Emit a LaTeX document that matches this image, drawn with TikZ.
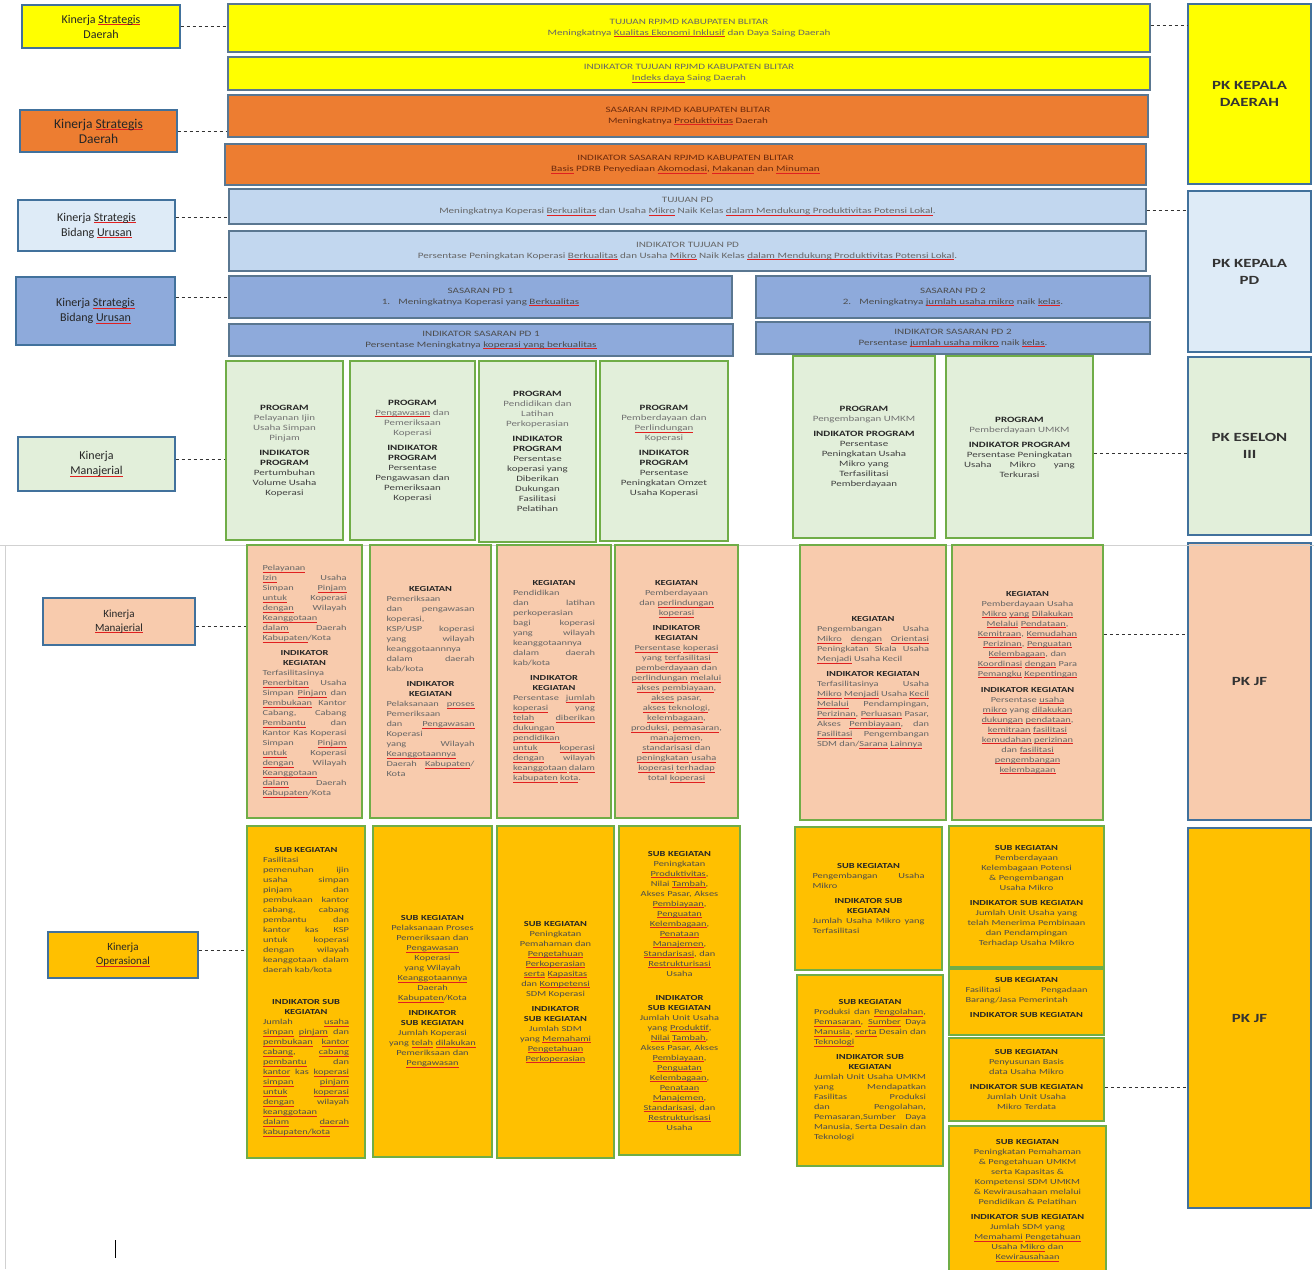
\documentclass[tikz,border=0pt]{standalone}
\usepackage{fontspec}
\setmainfont{Carlito}
\newfontfamily\widefont{Carlito}[FakeStretch=1.35]
\usepackage{xcolor}

\definecolor{kyellow}{HTML}{FFFF00}
\definecolor{korange}{HTML}{ED7D31}
\definecolor{kpale}{HTML}{DEEBF7}
\definecolor{klight}{HTML}{C2D7EF}
\definecolor{kblue}{HTML}{8EAADB}
\definecolor{kgreen}{HTML}{E2EFDA}
\definecolor{kpeach}{HTML}{F8CBAD}
\definecolor{kgold}{HTML}{FFC000}
\definecolor{kline}{HTML}{41719C}
\definecolor{kgline}{HTML}{70AD47}
\definecolor{kbrown}{HTML}{6B2A0E}
\definecolor{kred}{HTML}{E02020}

\newsavebox\sqbox
\newcommand\sq[1]{\leavevmode\sbox\sqbox{#1}\rlap{\raisebox{-2pt}{\color{kred}\rule{\wd\sqbox}{0.9pt}}}\usebox\sqbox}
\newcommand\kh[1]{{\color{black!85}\bfseries #1}}
\newcommand\jhd[1]{\null\hfill\kh{#1}\hfill\null\\}
\newcommand\lblfont{\fontsize{12}{15}\selectfont}
\newcommand\bandfont{\widefont\fontsize{8.2}{11}\selectfont}
\newcommand\progfont{\widefont\fontsize{8.1}{10}\selectfont}
\newcommand\kegfont{\widefont\fontsize{7.7}{10}\selectfont\sloppy\hyphenpenalty=10000}
\newcommand\pkfont{\widefont\bfseries\fontsize{12.5}{17}\selectfont}

\begin{document}
\begin{tikzpicture}[x=1pt,y=-1pt,
  lbl/.style={draw=kline, line width=1.3pt, font=\lblfont, align=center, text=black!85, inner sep=2pt},
  band/.style={draw=kline!60!gray, line width=1.2pt, font=\bandfont, align=center, text=black!60, inner sep=2pt},
  pk/.style={draw=kline, line width=1.5pt, font=\pkfont, align=center, text=black!80, minimum width=123pt},
  prog/.style={draw=kgline, line width=1.6pt, fill=kgreen, font=\progfont, align=center, text=black!55, inner sep=2pt},
  keg/.style={draw=kgline, line width=1.6pt, fill=kpeach, font=\kegfont, text=black!60, inner sep=2pt},
  subk/.style={draw=kgline, line width=1.6pt, fill=kgold, font=\kegfont, text=black!70, inner sep=2pt},
  link/.style={dashed, line width=0.7pt, black!80}]
 \useasboundingbox (0,0) rectangle (1314,1269);

 % kiri
 \node[lbl, fill=kyellow, minimum width=158pt, minimum height=43pt] (ksd1) at (101,26.5) {Kinerja \sq{Strategis}\\Daerah};
 \node[lbl, fill=korange, minimum width=157pt, minimum height=42pt, font=\fontsize{13.5}{15}\selectfont] (ksd2) at (98.5,131) {Kinerja \sq{Strategis}\\Daerah};
 \node[lbl, fill=kpale, minimum width=157pt, minimum height=51pt] (ksbu1) at (96.5,225.5) {Kinerja \sq{Strategis}\\Bidang \sq{Urusan}};
 \node[lbl, fill=kblue, minimum width=159pt, minimum height=68pt] (ksbu2) at (95.5,311) {Kinerja \sq{Strategis}\\Bidang \sq{Urusan}};
 \node[lbl, fill=kgreen, minimum width=157pt, minimum height=54pt] (km1) at (96.5,464) {Kinerja\\\sq{Manajerial}};
 \node[lbl, fill=kpeach, minimum width=152pt, minimum height=47pt, font=\fontsize{11}{14}\selectfont] (km2) at (119,621.5) {Kinerja\\\sq{Manajerial}};
 \node[lbl, fill=kgold, minimum width=150pt, minimum height=46pt, font=\fontsize{11}{14}\selectfont] (kop) at (123,955) {Kinerja\\\sq{Operasional}};

 % tujuan dan sasaran
 \node[band, fill=kyellow, minimum width=922pt, minimum height=48pt] (tujuan) at (689,28) {TUJUAN RPJMD KABUPATEN BLITAR\\Meningkatnya \sq{Kualitas Ekonomi Inklusif} dan Daya Saing Daerah};
 \node[band, fill=kyellow, minimum width=922pt, minimum height=33pt] (indtujuan) at (689,73.5) {INDIKATOR TUJUAN RPJMD KABUPATEN BLITAR\\\sq{Indeks daya} Saing Daerah};
 \node[band, fill=korange, text=kbrown, minimum width=920pt, minimum height=42pt] (sasaran) at (688,116) {SASARAN RPJMD KABUPATEN BLITAR\\Meningkatnya \sq{Produktivitas} Daerah};
 \node[band, fill=korange, text=kbrown, minimum width=921pt, minimum height=41pt] (indsasaran) at (685.5,164.5) {INDIKATOR SASARAN RPJMD KABUPATEN BLITAR\\\sq{Basis} PDRB Penyediaan \sq{Akomodasi}, \sq{Makanan} dan \sq{Minuman}};
 \node[band, fill=klight, minimum width=917pt, minimum height=35pt] (tujuanpd) at (687.5,206.5) {TUJUAN PD\\Meningkatnya Koperasi \sq{Berkualitas} dan Usaha \sq{Mikro} Naik Kelas \sq{dalam Mendukung Produktivitas Potensi Lokal}.};
 \node[band, fill=klight, minimum width=917pt, minimum height=40pt] (indtujuanpd) at (687.5,251) {INDIKATOR TUJUAN PD\\Persentase Peningkatan Koperasi \sq{Berkualitas} dan Usaha \sq{Mikro} Naik Kelas \sq{dalam Mendukung Produktivitas Potensi Lokal}.};
 \node[band, fill=kblue, text=black!70, minimum width=503pt, minimum height=42pt] (sasaranpd1) at (480.5,297) {SASARAN PD 1\\1.\quad Meningkatnya Koperasi yang \sq{Berkualitas}};
 \node[band, fill=kblue, text=black!70, minimum width=394pt, minimum height=42pt] (sasaranpd2) at (953,297) {SASARAN PD 2\\2.\quad Meningkatnya \sq{jumlah usaha mikro} naik \sq{kelas}.};
 \node[band, fill=kblue, text=black!70, minimum width=504pt, minimum height=32pt] (indsasaranpd1) at (481,340) {INDIKATOR SASARAN PD 1\\Persentase Meningkatnya \sq{koperasi yang  berkualitas}};
 \node[band, fill=kblue, text=black!70, minimum width=394pt, minimum height=32pt] (indsasaranpd2) at (953,338) {INDIKATOR SASARAN PD 2\\Persentase \sq{jumlah usaha mikro} naik \sq{kelas}.};

 % kanan
 \node[pk, fill=kyellow, minimum height=180pt] (pkkd) at (1249.5,94) {PK KEPALA\\DAERAH};
 \node[pk, fill=kpale, minimum height=161pt] (pkpd) at (1249.5,271.5) {PK KEPALA\\PD};
 \node[pk, fill=kgreen, minimum height=178pt] (pkes3) at (1249.5,446) {PK ESELON\\III};
 \node[pk, fill=kpeach, minimum height=277pt] (pkjf1) at (1249.5,681.5) {PK JF};
 \node[pk, fill=kgold, minimum height=380pt] (pkjf2) at (1249.5,1018) {PK JF};

 % program
 \node[prog, minimum width=117pt, minimum height=179pt] (p1) at (284.5,450.5) {\kh{PROGRAM}\\Pelayanan Ijin\\Usaha Simpan\\Pinjam\\[5pt]\kh{INDIKATOR}\\\kh{PROGRAM}\\{\color{black!75}Pertumbuhan}\\{\color{black!75}Volume Usaha}\\{\color{black!75}Koperasi}};
 \node[prog, minimum width=125pt, minimum height=179pt] (p2) at (412.5,450.5) {\kh{PROGRAM}\\\sq{Pengawasan} dan\\Pemeriksaan\\Koperasi\\[5pt]\kh{INDIKATOR}\\\kh{PROGRAM}\\{\color{black!75}Persentase}\\{\color{black!75}Pengawasan dan}\\{\color{black!75}Pemeriksaan}\\{\color{black!75}Koperasi}};
 \node[prog, minimum width=117pt, minimum height=181pt] (p3) at (537.5,451.5) {\kh{PROGRAM}\\Pendidikan dan\\Latihan\\Perkoperasian\\[5pt]\kh{INDIKATOR}\\\kh{PROGRAM}\\{\color{black!75}Persentase}\\{\color{black!75}koperasi yang}\\{\color{black!75}Diberikan}\\{\color{black!75}Dukungan}\\{\color{black!75}Fasilitasi}\\{\color{black!75}Pelatihan}};
 \node[prog, minimum width=128pt, minimum height=180pt] (p4) at (664,451) {\kh{PROGRAM}\\Pemberdayaan dan\\\sq{Perlindungan}\\Koperasi\\[5pt]\kh{INDIKATOR}\\\kh{PROGRAM}\\{\color{black!75}Persentase}\\{\color{black!75}Peningkatan Omzet}\\{\color{black!75}Usaha Koperasi}};
 \node[prog, minimum width=142pt, minimum height=182pt] (p5) at (864,447) {\kh{PROGRAM}\\Pengembangan UMKM\\[5pt]\kh{INDIKATOR PROGRAM}\\{\color{black!75}Persentase}\\{\color{black!75}Peningkatan Usaha}\\{\color{black!75}Mikro yang}\\{\color{black!75}Terfasilitasi}\\{\color{black!75}Pemberdayaan}};
 \node[prog, minimum width=147pt, minimum height=182pt] (p6) at (1019.5,447) {\kh{PROGRAM}\\Pemberdayaan UMKM\\[5pt]\kh{INDIKATOR PROGRAM}\\{\color{black!75}Persentase Peningkatan}\\{\color{black!75}Usaha\hspace{18pt}Mikro\hspace{18pt}yang}\\{\color{black!75}Terkurasi}};

 % batas halaman
 \draw[black!18, line width=0.8pt] (0,545) -- (1314,545);
 \draw[black!18, line width=0.8pt] (5,545) -- (5,1269);

 % kegiatan
 \node[keg, minimum width=115pt, minimum height=273pt, text width=84pt, align=justify] (k1) at (304.5,681.5) {\sq{Pelayanan} \sq{Izin} Usaha Simpan \sq{Pinjam} \sq{untuk} Koperasi \sq{dengan} Wilayah \sq{Keanggotaan} \sq{dalam} Daerah \sq{Kabupaten}/Kota\\[5pt]\jhd{INDIKATOR}\jhd{KEGIATAN}Terfasilitasinya \sq{Penerbitan} Usaha Simpan \sq{Pinjam} dan \sq{Pembukaan} Kantor Cabang, Cabang \sq{Pembantu} dan Kantor Kas Koperasi Simpan \sq{Pinjam} \sq{untuk} Koperasi \sq{dengan} Wilayah \sq{Keanggotaan} \sq{dalam} Daerah \sq{Kabupaten}/Kota};
 \node[keg, minimum width=121pt, minimum height=273pt, text width=88pt, align=justify] (k2) at (430.5,681.5) {\jhd{KEGIATAN}Pemeriksaan dan pengawasan koperasi, KSP/USP koperasi yang wilayah keanggotaannnya dalam daerah kab/kota\\[5pt]\jhd{INDIKATOR}\jhd{KEGIATAN}Pelaksanaan \sq{proses} Pemeriksaan dan \sq{Pengawasan} Koperasi yang Wilayah \sq{Keanggotaannya} Daerah \sq{Kabupaten}/ Kota};
 \node[keg, minimum width=114pt, minimum height=273pt, text width=82pt, align=justify] (k3) at (554,681.5) {\jhd{KEGIATAN}Pendidikan dan latihan perkoperasian bagi koperasi yang wilayah keanggotaannya dalam daerah kab/kota\\[5pt]\jhd{INDIKATOR}\jhd{KEGIATAN}Persentase \sq{jumlah} \sq{koperasi} yang \sq{telah} \sq{diberikan} \sq{dukungan} \sq{pendidikan} \sq{untuk} \sq{koperasi} \sq{dengan} wilayah \sq{keanggotaan} \sq{dalam} \sq{kabupaten} \sq{kota}.};
 \node[keg, minimum width=123pt, minimum height=273pt, text width=92pt, align=center] (k4) at (676.5,681.5) {\kh{KEGIATAN}\\Pemberdayaan dan \sq{perlindungan} \sq{koperasi}\\[5pt]\kh{INDIKATOR}\\\kh{KEGIATAN}\\\sq{Persentase} \sq{koperasi} yang \sq{terfasilitasi} \sq{pemberdayaan} dan \sq{perlindungan} \sq{melalui} \sq{akses} \sq{pembiayaan}, \sq{akses} pasar, \sq{akses} \sq{teknologi}, \sq{kelembagaan}, \sq{produksi}, \sq{pemasaran}, \sq{manajemen}, \sq{standarisasi} dan \sq{peningkatan} \sq{usaha} \sq{koperasi} \sq{terhadap} total \sq{koperasi}};
 \node[keg, minimum width=146pt, minimum height=275pt, text width=112pt, align=justify] (k5) at (873,682.5) {\jhd{KEGIATAN}Pengembangan Usaha \sq{Mikro} \sq{dengan} \sq{Orientasi} Peningkatan Skala Usaha \sq{Menjadi} Usaha Kecil\\[5pt]\jhd{INDIKATOR KEGIATAN}Terfasilitasinya Usaha \sq{Mikro} \sq{Menjadi} Usaha \sq{Kecil} \sq{Melalui} Pendampingan, \sq{Perizinan}, \sq{Perluasan} Pasar, Akses \sq{Pembiayaan}, dan \sq{Fasilitasi} Pengembangan SDM dan/\sq{Sarana} \sq{Lainnya}};
 \node[keg, minimum width=151pt, minimum height=275pt, text width=104pt, align=center] (k6) at (1027.5,682.5) {\kh{KEGIATAN}\\Pemberdayaan Usaha \sq{Mikro} \sq{yang} \sq{Dilakukan} \sq{Melalui} \sq{Pendataan}, \sq{Kemitraan}, \sq{Kemudahan} \sq{Perizinan}, \sq{Penguatan} \sq{Kelembagaan}, dan \sq{Koordinasi} \sq{dengan} Para \sq{Pemangku} \sq{Kepentingan}\\[6pt]\kh{INDIKATOR KEGIATAN}\\Persentase \sq{usaha} \sq{mikro} yang \sq{dilakukan} \sq{dukungan} \sq{pendataan}, \sq{kemitraan} \sq{fasilitasi} \sq{kemudahan} \sq{perizinan} dan \sq{fasilitasi} \sq{pengembangan} \sq{kelembagaan}};

 % sub kegiatan
 \node[subk, minimum width=118pt, minimum height=332pt, text width=86pt, align=justify] (s1) at (306,992) {\jhd{SUB KEGIATAN}Fasilitasi pemenuhan ijin usaha simpan pinjam dan pembukaan kantor cabang, cabang pembantu dan kantor kas KSP untuk koperasi dengan wilayah keanggotaan dalam daerah kab/kota\\[22pt]\jhd{INDIKATOR SUB}\jhd{KEGIATAN}Jumlah \sq{usaha} \sq{simpan} \sq{pinjam} dan \sq{pembukaan} \sq{kantor} \sq{cabang}, \sq{cabang} \sq{pembantu} dan \sq{kantor} kas \sq{koperasi} \sq{simpan} \sq{pinjam} \sq{untuk} \sq{koperasi} \sq{dengan} wilayah \sq{keanggotaan} \sq{dalam} \sq{daerah} \sq{kabupaten/kota}};
 \node[subk, minimum width=119pt, minimum height=331pt, text width=88pt, align=center] (s2) at (432.5,991.5) {\kh{SUB KEGIATAN}\\Pelaksanaan Proses Pemeriksaan dan \sq{Pengawasan} Koperasi yang Wilayah \sq{Keanggotaannya} Daerah \sq{Kabupaten}/Kota\\[5pt]\kh{INDIKATOR SUB KEGIATAN}\\Jumlah Koperasi yang \sq{telah} \sq{dilakukan} Pemeriksaan dan \sq{Pengawasan}};
 \node[subk, minimum width=117pt, minimum height=332pt, text width=84pt, align=center] (s3) at (555.5,992) {\kh{SUB KEGIATAN}\\Peningkatan Pemahaman dan \sq{Pengetahuan} \sq{Perkoperasian} \sq{serta} \sq{Kapasitas} dan \sq{Kompetensi} SDM Koperasi\\[5pt]\kh{INDIKATOR SUB KEGIATAN}\\Jumlah SDM yang \sq{Memahami} \sq{Pengetahuan} \sq{Perkoperasian}};
 \node[subk, minimum width=121pt, minimum height=329pt, text width=86pt, align=center] (s4) at (679.5,990.5) {\kh{SUB KEGIATAN}\\Peningkatan \sq{Produktivitas}, Nilai \sq{Tambah}, Akses Pasar, Akses \sq{Pembiayaan}, \sq{Penguatan} \sq{Kelembagaan}, \sq{Penataan} \sq{Manajemen}, \sq{Standarisasi}, dan \sq{Restrukturisasi} Usaha\\[14pt]\kh{INDIKATOR SUB KEGIATAN}\\Jumlah Unit Usaha yang \sq{Produktif}, \sq{Nilai} \sq{Tambah}, Akses Pasar, Akses \sq{Pembiayaan}, \sq{Penguatan} \sq{Kelembagaan}, \sq{Penataan} \sq{Manajemen}, \sq{Standarisasi}, dan \sq{Restrukturisasi} Usaha};
 \node[subk, minimum width=147pt, minimum height=143pt, text width=112pt, align=justify] (s5) at (868.5,898.5) {\jhd{SUB KEGIATAN}Pengembangan Usaha Mikro\\[5pt]\jhd{INDIKATOR SUB}\jhd{KEGIATAN}Jumlah Usaha Mikro yang Terfasilitasi};
 \node[subk, minimum width=146pt, minimum height=191pt, text width=112pt, align=justify] (s6) at (870,1070.5) {\jhd{SUB KEGIATAN}Produksi dan \sq{Pengolahan}, \sq{Pemasaran}, \sq{Sumber} Daya \sq{Manusia}, \sq{serta} Desain dan \sq{Teknologi}\\[5pt]\jhd{INDIKATOR SUB}\jhd{KEGIATAN}Jumlah Unit Usaha UMKM yang Mendapatkan Fasilitas Produksi dan Pengolahan, Pemasaran,Sumber Daya Manusia, Serta Desain dan Teknologi};
 \node[subk, minimum width=155pt, minimum height=141pt, text width=118pt, align=center] (s7) at (1026.5,896.5) {\kh{SUB KEGIATAN}\\Pemberdayaan Kelembagaan Potensi \& Pengembangan Usaha Mikro\\[5pt]\kh{INDIKATOR SUB KEGIATAN}\\Jumlah Unit Usaha yang telah Menerima Pembinaan dan Pendampingan Terhadap Usaha Mikro};
 \node[subk, minimum width=155pt, minimum height=66pt, text width=122pt, align=justify] (s8) at (1026.5,1002) {\jhd{SUB KEGIATAN}Fasilitasi Pengadaan Barang/Jasa Pemerintah\\[5pt]\jhd{INDIKATOR SUB KEGIATAN}};
 \node[subk, minimum width=155pt, minimum height=83pt, text width=118pt, align=center] (s9) at (1026.5,1079.5) {\kh{SUB KEGIATAN}\\Penyusunan Basis data Usaha Mikro\\[5pt]\kh{INDIKATOR SUB KEGIATAN}\\Jumlah Unit Usaha Mikro Terdata};
 \node[subk, minimum width=157pt, minimum height=149pt, text width=122pt, align=center] (s10) at (1027.5,1200.5) {\kh{SUB KEGIATAN}\\Peningkatan Pemahaman \& Pengetahuan UMKM serta Kapasitas \& Kompetensi SDM UMKM \& Kewirausahaan melalui Pendidikan \& Pelatihan\\[5pt]\kh{INDIKATOR SUB KEGIATAN}\\Jumlah SDM yang \sq{Memahami} \sq{Pengetahuan} Usaha \sq{Mikro} dan \sq{Kewirausahaan}};

 % garis putus-putus
 \draw[link] (ksd1.east) -- (ksd1.east -| tujuan.west);
 \draw[link] (ksd2.east) -- (ksd2.east -| sasaran.west);
 \draw[link] ([yshift=8pt]ksbu1.east) -- ([yshift=8pt]ksbu1.east -| tujuanpd.west);
 \draw[link] ([yshift=14pt]ksbu2.east) -- ([yshift=14pt]ksbu2.east -| sasaranpd1.west);
 \draw[link] ([yshift=5pt]km1.east) -- ([yshift=5pt]km1.east -| p1.west);
 \draw[link] ([yshift=-5pt]km2.east) -- ([yshift=-5pt]km2.east -| k1.west);
 \draw[link] ([yshift=5pt]kop.east) -- ([yshift=5pt]kop.east -| s1.west);
 \draw[link] ([yshift=3pt]tujuan.east) -- ([yshift=3pt]tujuan.east -| pkkd.west);
 \draw[link] ([yshift=-4pt]tujuanpd.east) -- ([yshift=-4pt]tujuanpd.east -| pkpd.west);
 \draw[link] ([yshift=-6pt]p6.east) -- ([yshift=-6pt]p6.east -| pkes3.west);
 \draw[link] ([yshift=48pt]k6.east) -- ([yshift=48pt]k6.east -| pkjf1.west);
 \draw[link] ([yshift=-8pt]s9.east) -- ([yshift=-8pt]s9.east -| pkjf2.west);

 \draw[black, line width=0.8pt] (115,1240) -- (115,1258);
\end{tikzpicture}
\end{document}
